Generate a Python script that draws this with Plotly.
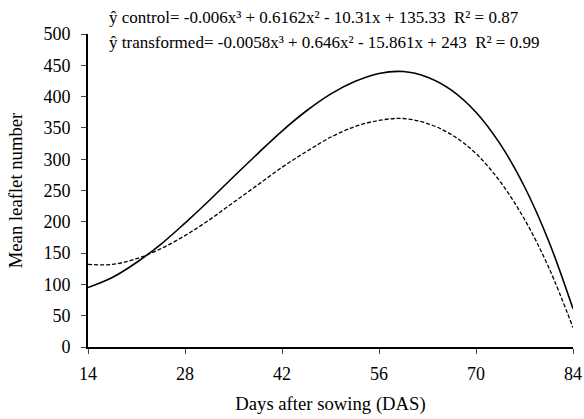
import plotly.graph_objects as go

days = [14, 17.5, 21, 24.5, 28, 31.5, 35, 38.5, 42, 45.5, 49, 52.5, 56, 59.5, 63, 66.5, 70, 73.5, 77, 80.5, 84]
control = [95, 111, 135, 164, 198, 234, 272, 309, 345, 377, 404, 424, 437, 440, 431, 410, 375, 324, 256, 169, 61]
transformed = [132, 132, 141, 157, 178, 203, 231, 259, 287, 312, 335, 352, 362, 365, 357, 339, 309, 264, 204, 127, 31]
x_ticks = [14, 28, 42, 56, 70, 84]
y_ticks = [0, 50, 100, 150, 200, 250, 300, 350, 400, 450, 500]
eq_control = "ŷ control= -0.006x³ + 0.6162x² - 10.31x + 135.33  R² = 0.87"
eq_transformed = "ŷ transformed= -0.0058x³ + 0.646x² - 15.861x + 243  R² = 0.99"

FAM = "Liberation Serif"
W, H = 584, 419
L, R, T, B = 88, 11, 34, 72
pw, ph = W - L - R, H - T - B

fig = go.Figure()
fig.add_trace(go.Scatter(x=days, y=control, mode="lines", line=dict(color="black", width=1.6, shape="spline"), name="control"))
fig.add_trace(go.Scatter(x=days, y=transformed, mode="lines", line=dict(color="black", width=1.3, dash="4px,2px", shape="spline"), name="transformed"))

fig.update_layout(
    width=W, height=H,
    margin=dict(l=L, r=R, t=T, b=B, autoexpand=False),
    paper_bgcolor="white", plot_bgcolor="white",
    showlegend=False,
    font=dict(family=FAM, size=18, color="black"),
    xaxis=dict(range=[14, 84], tickvals=x_ticks, ticks="outside", ticklen=5, tickwidth=1,
               showline=True, linecolor="black", linewidth=2, showgrid=False, zeroline=False,
               automargin=False, title=dict(text="Days after sowing (DAS)", standoff=14, font=dict(family=FAM, size=18.7)),
               tickfont=dict(family=FAM, size=18), ticklabelstandoff=4),
    yaxis=dict(range=[0, 500], tickvals=y_ticks, ticks="outside", ticklen=5, tickwidth=1,
               showline=True, linecolor="black", linewidth=2, showgrid=False, zeroline=False,
               automargin=False, title=dict(text="Mean leaflet number", standoff=16, font=dict(family=FAM, size=18.7)),
               tickfont=dict(family=FAM, size=18), ticklabelstandoff=7),
    annotations=[
        dict(text=eq_control, x=(108 - L) / pw, y=(H - B - 17) / ph, xref="paper", yref="paper",
             showarrow=False, xanchor="left", yanchor="middle", xshift=-1, font=dict(family=FAM, size=17)),
        dict(text=eq_transformed, x=(108 - L) / pw, y=(H - B - 42) / ph, xref="paper", yref="paper",
             showarrow=False, xanchor="left", yanchor="middle", xshift=-1, font=dict(family=FAM, size=17)),
    ],
)
fig.write_html("out.html", config={"displayModeBar": False},
               post_script="document.body.style.margin='0';document.body.style.overflow='hidden';")
